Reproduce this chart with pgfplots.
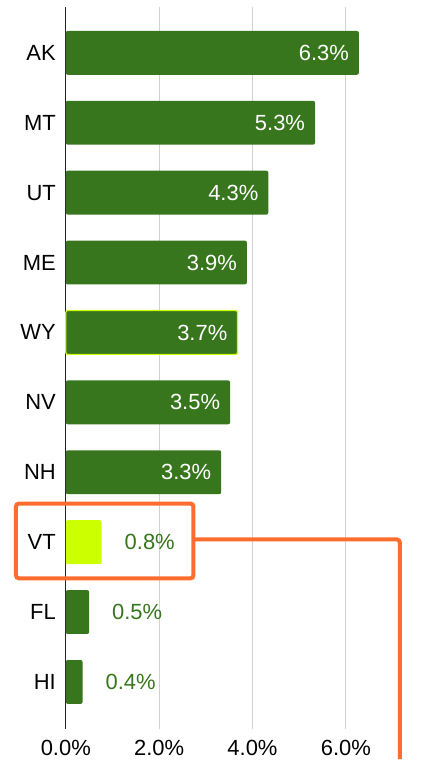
\documentclass[border=0pt]{standalone}
\usepackage{pgfplots}
\pgfplotsset{compat=1.18}
\usepackage{fontspec}
\setmainfont{Liberation Sans}
\definecolor{dgreen}{HTML}{38761D}
\definecolor{lime}{HTML}{CCFF00}
\definecolor{orng}{HTML}{FF6D2E}
\begin{document}
\begin{tikzpicture}
\begin{axis}[
  x=23.4pt, y=35.05pt,
  xmin=0, xmax=7.6, ymin=-0.656, ymax=9.67,
  y dir=reverse,
  xbar, bar width=22pt, bar shift=0pt,
  axis line style={draw=none},
  major tick length=0pt,
  xtick={0,2,4,6},
  xmajorgrids, grid style={gray!35, line width=0.6pt},
  ytick={0,...,9},
  yticklabels={AK,MT,UT,ME,WY,NV,NH,VT,FL,HI},
  /pgf/number format/assume math mode=true,
  xticklabel={\pgfmathprintnumber[fixed,fixed zerofill,precision=1]{\tick}\%},
  ticklabel style={font=\fontsize{11}{13}\selectfont, text=black},
  yticklabel style={xshift=-1.5pt},
  xticklabel style={yshift=-2pt},
  point meta=x,
  nodes near coords={\pgfmathprintnumber[fixed,fixed zerofill,precision=1]{\pgfplotspointmeta}\%},
  nodes near coords style={font=\fontsize{11}{13}\selectfont},
  clip=false,
]
% invisible frame fixing picture size
\path (axis cs:-1.41,-0.756) rectangle (axis cs:7.863,10.105);
\draw[gray!30!black, line width=0.6pt] (axis cs:0,-0.656) -- (axis cs:0,9.67);
\addplot[fill=dgreen, draw=none, rounded corners=1pt,
  every node near coord/.append style={anchor=east, xshift=-1.5pt, text=white}]
  coordinates {(6.28,0) (5.34,1) (4.34,2) (3.88,3) (3.52,5) (3.33,6)};
\addplot[fill=dgreen, draw=lime, line width=0.6pt, rounded corners=1pt,
  every node near coord/.append style={anchor=east, xshift=-1.5pt, text=white}]
  coordinates {(3.68,4)};
\addplot[fill=lime, draw=none, rounded corners=1pt,
  every node near coord/.append style={anchor=west, xshift=8pt, text=dgreen}]
  coordinates {(0.77,7)};
\addplot[fill=dgreen, draw=none, rounded corners=1pt,
  every node near coord/.append style={anchor=west, xshift=8pt, text=dgreen}]
  coordinates {(0.50,8) (0.36,9)};
\draw[orng, line width=2pt, rounded corners=1.5pt] (axis cs:-1.068,6.448) rectangle (axis cs:2.735,7.518);
\draw[orng, line width=2pt, rounded corners=1.5pt] (axis cs:2.735,6.961) -- (axis cs:7.158,6.961) -- (axis cs:7.158,10.105);
\end{axis}
\end{tikzpicture}
\end{document}
